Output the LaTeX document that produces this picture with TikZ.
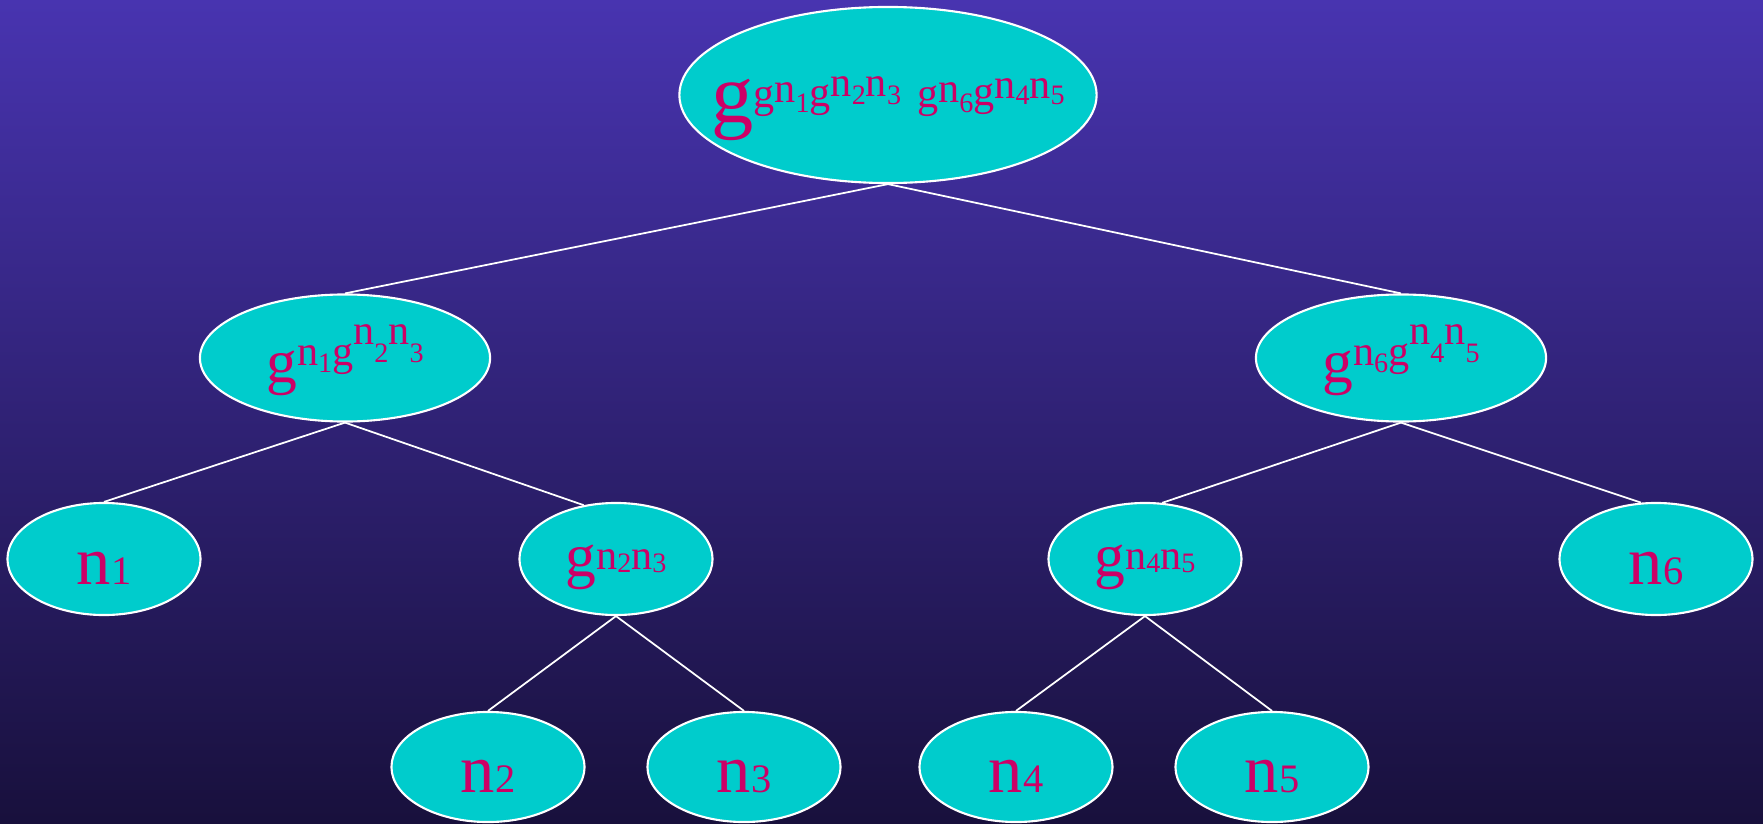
\documentclass[tikz,border=0pt]{standalone}
\usepackage{fontspec}
\setmainfont{Liberation Serif}
\usepackage{xcolor}
\usetikzlibrary{shapes}
\definecolor{bgtop}{RGB}{72,52,176}
\definecolor{bgmid}{RGB}{54,38,132}
\definecolor{bgbot}{RGB}{24,16,60}
\definecolor{cyanfill}{RGB}{0,204,204}
\definecolor{labelred}{RGB}{204,0,102}
% font sizes
\newcommand{\szRoot}{\fontsize{24pt}{24pt}\selectfont}
\newcommand{\szG}{\fontsize{17.5pt}{17.5pt}\selectfont}
\newcommand{\szUp}{\fontsize{12pt}{12pt}\selectfont}
\newcommand{\szDig}{\fontsize{8pt}{8pt}\selectfont}
\newcommand{\szLeaf}{\fontsize{19.5pt}{19.5pt}\selectfont}
\newcommand{\szLeafDig}{\fontsize{11.5pt}{11.5pt}\selectfont}
% raised piece of text
\newcommand{\rz}[2]{\raisebox{#1}{#2}}
% centred label, baseline dropped below the centre
\newcommand{\lbl}[2]{\makebox[0pt]{\raisebox{-#1}[0pt][0pt]{#2}}}
\newcommand{\leaf}[1]{\lbl{0.25cm}{\szLeaf n\szLeafDig #1}}

\begin{document}
\begin{tikzpicture}[x=0.01cm,y=-0.01cm,
  every node/.style={ellipse,draw=white,line width=0.6pt,fill=cyanfill,
    text=labelred,inner sep=0pt},
  rootnode/.style={minimum width=4.17cm,minimum height=1.76cm},
  midnode/.style={minimum width=2.9cm,minimum height=1.27cm},
  lownode/.style={minimum width=1.93cm,minimum height=1.12cm},
  leafnode/.style={minimum width=1.93cm,minimum height=1.1cm},
  link/.style={draw=white,line width=0.5pt}]

\useasboundingbox (0,0) rectangle (1763,824);
\shade[top color=bgtop,middle color=bgmid,bottom color=bgbot] (0,0) rectangle (1763,824);

%root
\node[rootnode] (root) at (888,95) {\lbl{0.27cm}{\szRoot g\szUp
  \rz{0.15cm}{g}\rz{0.20cm}{n}\rz{0.10cm}{\szDig 1}%
  \rz{0.16cm}{g}\rz{0.26cm}{n}\rz{0.18cm}{\szDig 2}\rz{0.26cm}{n}\rz{0.18cm}{\szDig 3}%
  \hspace{0.16cm}%
  \rz{0.15cm}{g}\rz{0.20cm}{n}\rz{0.10cm}{\szDig 6}%
  \rz{0.17cm}{g}\rz{0.24cm}{n}\rz{0.18cm}{\szDig 4}\rz{0.24cm}{n}\rz{0.18cm}{\szDig 5}}};

%second row
\node[midnode] (lft) at (345,358) {\lbl{0.24cm}{\szG g\fontsize{12pt}{12pt}\selectfont
  \rz{0.17cm}{n}\rz{0.10cm}{\szDig 1}\rz{0.17cm}{g}%
  \rz{0.37cm}{n}\rz{0.20cm}{\szDig 2}\rz{0.37cm}{n}\rz{0.20cm}{\szDig 3}}};
\node[midnode] (rgt) at (1401,358) {\lbl{0.24cm}{\szG g\fontsize{12pt}{12pt}\selectfont
  \rz{0.17cm}{n}\rz{0.10cm}{\szDig 6}\rz{0.17cm}{g}%
  \rz{0.37cm}{n}\rz{0.20cm}{\szDig 4}\rz{0.37cm}{n}\rz{0.20cm}{\szDig 5}}};

%third row
\node[lownode] (n1) at (104,559) {\leaf{1}};
\node[lownode] (g23) at (616,559) {\lbl{0.17cm}{\szG g\fontsize{12pt}{12pt}\selectfont
  \rz{0.07cm}{n}\rz{0.04cm}{\szDig 2}\rz{0.07cm}{n}\rz{0.04cm}{\szDig 3}}};
\node[lownode] (g45) at (1145,559) {\lbl{0.17cm}{\szG g\fontsize{12pt}{12pt}\selectfont
  \rz{0.07cm}{n}\rz{0.04cm}{\szDig 4}\rz{0.07cm}{n}\rz{0.04cm}{\szDig 5}}};
\node[lownode] (n6) at (1656,559) {\leaf{6}};

%leaves
\node[leafnode] (n2) at (488,767) {\leaf{2}};
\node[leafnode] (n3) at (744,767) {\leaf{3}};
\node[leafnode] (n4) at (1016,767) {\leaf{4}};
\node[leafnode] (n5) at (1272,767) {\leaf{5}};

\draw[link] (root.south) -- (lft.north);
\draw[link] (root.south) -- (rgt.north);
\draw[link] (lft.south) -- (n1.north);
\draw[link] (lft.south) -- (g23.121);
\draw[link] (rgt.south) -- (g45.73);
\draw[link] (rgt.south) -- (n6.105);
\draw[link] (g23.south) -- (n2.north);
\draw[link] (g23.south) -- (n3.north);
\draw[link] (g45.south) -- (n4.north);
\draw[link] (g45.south) -- (n5.north);

\end{tikzpicture}
\end{document}
